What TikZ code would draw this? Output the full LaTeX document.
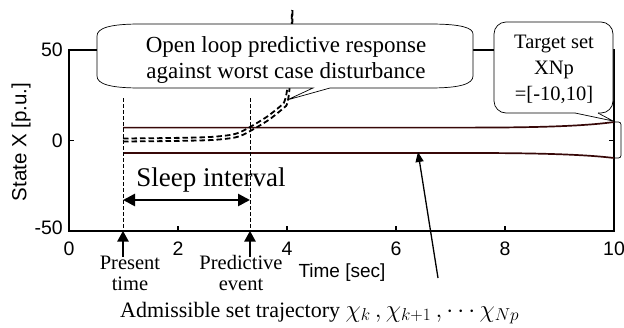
\documentclass[tikz,border=0pt]{standalone}
\usepackage{fontspec}
\setmainfont{Liberation Serif}
\setsansfont{Liberation Sans}
\usetikzlibrary{arrows.meta}
\definecolor{admred}{RGB}{55,8,8}
\begin{document}
\begin{tikzpicture}[x=1pt,y=-1pt,
 axisline/.style={line width=1.9pt},
 adm/.style={line width=1.7pt, draw=admred},
 dcurve/.style={line width=1.8pt, dash pattern=on 5.5pt off 3pt},
 vdash/.style={line width=0.6pt, dash pattern=on 4pt off 2pt},
 ticklab/.style={font=\sffamily\fontsize{19.5}{19.5}\selectfont, inner sep=0pt},
 callout/.style={draw, fill=white, line width=0.7pt},
 serifl/.style={font=\fontsize{20.5}{21}\selectfont, align=center, inner sep=0pt},
 bigarrow/.style={line width=2.8pt, -{Triangle[length=11pt,width=11pt]}},
 thinarrow/.style={line width=1.3pt, -{Triangle[length=10pt,width=8pt]}},
]
\useasboundingbox (0,0) rectangle (624,327);
% axes box
\draw[axisline] (69,50) rectangle (614,230.7);
\foreach \t in {2,4,6,8}{\draw[line width=1.2pt] ({69+54.5*\t},230.7) -- ({69+54.5*\t},226);}
\draw[line width=1.2pt] (69,140.3) -- (74,140.3);
\draw[line width=1.2pt] (614,140.3) -- (609,140.3);
% tick labels
\node[ticklab, anchor=north] (x0) at (69,242) {0};
\node[ticklab, anchor=north] (x2) at (178,242) {2};
\node[ticklab, anchor=north] (x4) at (287,242) {4};
\node[ticklab, anchor=north] (x6) at (396,242) {6};
\node[ticklab, anchor=north] (x8) at (505,242) {8};
\node[ticklab, anchor=north] (x10) at (614,242) {10};
\node[ticklab, anchor=east] (y50) at (63,50) {50};
\node[ticklab, anchor=east] (y0) at (63,141) {0};
\node[ticklab, anchor=east] (ym50) at (63,228) {-50};
\node[rotate=90, font=\sffamily\fontsize{20.5}{20}\selectfont] (ylab) at (21,142) {State X [p.u.]};
\node[font=\sffamily\fontsize{19}{19}\selectfont] (xlab) at (342,273) {Time [sec]};
% admissible set trajectory
\draw[adm] (123,127.6) -- (470,127.6) .. controls (540,127.6) and (585,126) .. (614,122);
\draw[adm] (123,153) -- (470,153) .. controls (540,153) and (585,154.5) .. (614,158);
\draw[line width=0.7pt, rounded corners=2.5pt] (614,122) -- (621,122) -- (621,158) -- (614,158);
% dashed predictive curves
\draw[dcurve] plot[smooth, tension=0.5] coordinates {(123,138.5) (170,138) (210,137) (235,134) (250,127) (268,116) (283,104)} .. controls (288,99) and (291,60) .. (292,10);
\draw[dcurve] plot[smooth, tension=0.5] coordinates {(123,141.5) (170,141) (212,140) (237,137) (252,130) (270,119) (286,106)} .. controls (290,102) and (292,60) .. (292.5,10);
% vertical dashed lines
\coordinate (p1top) at (123,98);
\coordinate (p1bot) at (123,230.7);
\coordinate (p2top) at (250,98);
\coordinate (p2bot) at (250,230.7);
\draw[vdash] (p1top) -- (p1bot);
\draw[vdash] (p2top) -- (p2bot);
% sleep interval
\coordinate (sl) at (123,200);
\coordinate (sr) at (250,200);
\draw[line width=2.6pt, {Triangle[length=12pt,width=12pt]}-{Triangle[length=12pt,width=12pt]}] (sl) -- (sr);
\node[font=\fontsize{27}{27}\selectfont, inner sep=0pt] (sleep) at (211,180) {Sleep interval};
% present / predictive
\node[serifl] (present) at (130,273) {Present\\time};
\node[serifl] (pred) at (241,273) {Predictive\\event};
\coordinate (a1s) at (123,257);
\coordinate (a2s) at (250,257);
\draw[bigarrow] (a1s) -- (p1bot);
\draw[bigarrow] (a2s) -- (p2bot);
% admissible label
\node[font=\fontsize{22}{22}\selectfont, inner sep=0pt, anchor=base west] (adml) at (120,317) {Admissible set trajectory {\fontsize{27}{27}\selectfont$\chi_k\,,\chi_{k+1}\,,\cdots\chi_{Np}$}};
\coordinate (admtail) at (438,278);
\coordinate (admhead) at (418,152);
\draw[thinarrow] (admtail) -- (admhead);
% open loop callout
\draw[callout] (97,36) .. controls (97,28) and (110,24) .. (140,24) -- (430,24) .. controls (462,24) and (473,28) .. (473,34)
  -- (473,76) .. controls (473,84) and (460,88) .. (430,88) -- (330,88) -- (287,100) -- (313,88)
  -- (140,88) .. controls (110,88) and (97,84) .. (97,76) -- cycle;
\node[font=\fontsize{23}{25}\selectfont, align=center, inner sep=0pt] (olt) at (286,60) {Open loop predictive response\\against worst case disturbance};
% target set callout
\draw[callout, rounded corners=12pt] (598,113) -- (613,113) -- (613,22) -- (494,22) -- (494,113) -- (575,113);
\draw[callout] (575,113) -- (613,121) -- (598,113);
\node[font=\fontsize{20.5}{26}\selectfont, align=center, inner sep=0pt] (tgt) at (554,69) {Target set\\XNp\\=[-10,10]};
\end{tikzpicture}
\end{document}
